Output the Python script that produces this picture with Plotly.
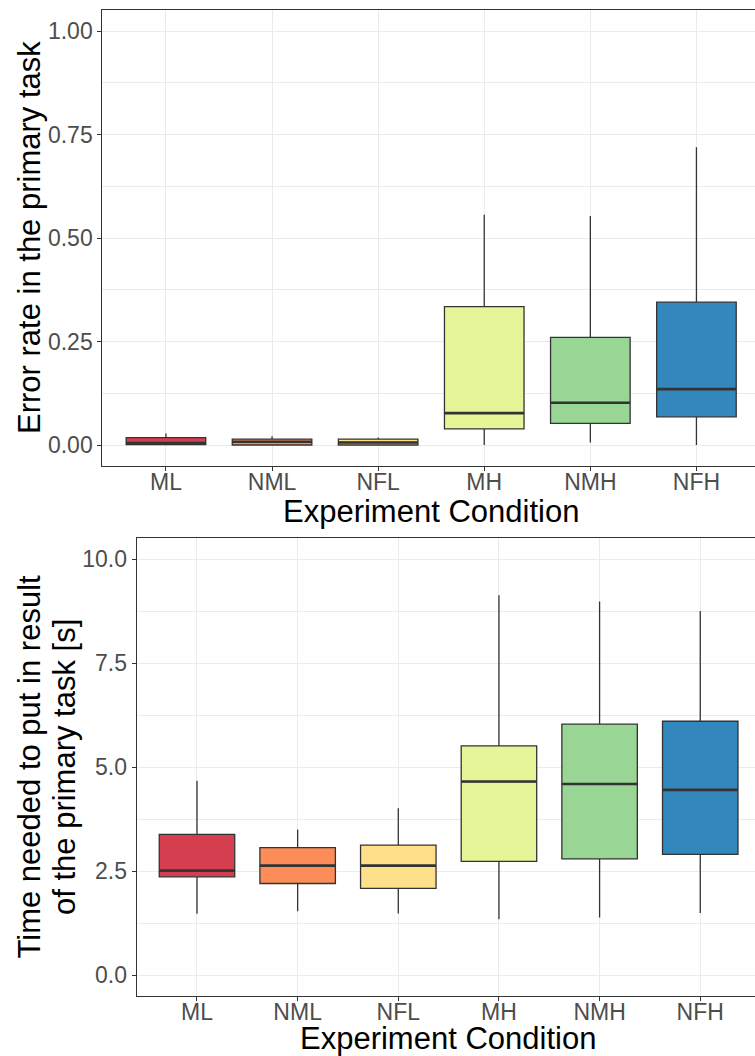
import plotly.graph_objects as go

# ---------------- data ----------------
categories = ["ML", "NML", "NFL", "MH", "NMH", "NFH"]
colors = ["#D53E4F", "#FC8D59", "#FEE08B", "#E6F598", "#99D594", "#3288BD"]

# Error rate in the primary task
err_low = [0.0, 0.0, 0.0, 0.0, 0.006, 0.0]
err_q1 = [0.001, 0.0, 0.0, 0.039, 0.052, 0.068]
err_med = [0.005, 0.008, 0.006, 0.077, 0.102, 0.135]
err_q3 = [0.018, 0.014, 0.014, 0.334, 0.260, 0.345]
err_high = [0.028, 0.021, 0.018, 0.556, 0.553, 0.719]

# Time needed to put in result [s]
time_low = [1.47, 1.53, 1.48, 1.34, 1.38, 1.49]
time_q1 = [2.36, 2.20, 2.08, 2.73, 2.79, 2.90]
time_med = [2.51, 2.63, 2.63, 4.65, 4.59, 4.45]
time_q3 = [3.38, 3.06, 3.12, 5.51, 6.03, 6.10]
time_high = [4.67, 3.50, 4.01, 9.13, 8.98, 8.75]

W, H = 755, 1056
FONT = "Liberation Sans, Arial, sans-serif"
BOX_W = 0.75

fig = go.Figure()


def add_panel(low, q1, med, q3, high, xa, ya):
    for i, cat in enumerate(categories):
        fig.add_trace(go.Box(
            x=[i], lowerfence=[low[i]], q1=[q1[i]], median=[med[i]],
            q3=[q3[i]], upperfence=[high[i]],
            width=BOX_W, whiskerwidth=0, boxpoints=False,
            fillcolor=colors[i], line=dict(color="#333333", width=1.3),
            xaxis=xa, yaxis=ya, showlegend=False, name=cat,
        ))
        # thicker median line (ggplot fatten)
        fig.add_trace(go.Scatter(
            x=[i - BOX_W / 2, i + BOX_W / 2], y=[med[i], med[i]],
            mode="lines", line=dict(color="#333333", width=2.6),
            xaxis=xa, yaxis=ya, showlegend=False, hoverinfo="skip",
        ))


add_panel(err_low, err_q1, err_med, err_q3, err_high, "x", "y")
add_panel(time_low, time_q1, time_med, time_q3, time_high, "x2", "y2")

tickfont = dict(family=FONT, size=23, color="#4D4D4D")
grid = "#EBEBEB"


def xaxis(domain, rng, anchor):
    return dict(
        domain=domain, range=rng, anchor=anchor,
        tickmode="array", tickvals=list(range(len(categories))), ticktext=categories,
        showgrid=True, gridcolor=grid, gridwidth=1, zeroline=False,
        showline=True, mirror=True, linecolor="#333333", linewidth=1,
        ticks="outside", ticklen=4, tickcolor="#333333", tickwidth=1,
        tickfont=tickfont, ticklabelstandoff=-8,
    )


def yaxis(domain, rng, dtick, fmt, anchor):
    return dict(
        domain=domain, range=rng, anchor=anchor,
        tick0=0, dtick=dtick, tickformat=fmt,
        showgrid=True, gridcolor=grid, gridwidth=1, zeroline=False,
        showline=True, mirror=False, linecolor="#333333", linewidth=1,
        ticks="outside", ticklen=4, tickcolor="#333333", tickwidth=1,
        tickfont=tickfont,
        minor=dict(tick0=0, dtick=dtick / 2, showgrid=True, gridcolor=grid,
                   gridwidth=0.6, ticks=""),
    )


def py(pix):
    return 1 - pix / H


fig.update_layout(
    width=W, height=H,
    margin=dict(l=0, r=0, t=0, b=0),
    paper_bgcolor="white", plot_bgcolor="white",
    font=dict(family=FONT),
    boxmode="overlay",
    xaxis=xaxis([102.3 / W, 1], [-0.6, 5.552], "y"),
    yaxis=yaxis([py(465.7), py(10.3)], [-0.05, 1.05], 0.25, ".2f", "x"),
    xaxis2=xaxis([136.6 / W, 1], [-0.6, 5.544], "y2"),
    yaxis2=yaxis([py(995.8), py(538.2)], [-0.5, 10.5], 2.5, ".1f", "x2"),
)

title_font = dict(family=FONT, size=31, color="black")
annos = [
    dict(text="Experiment Condition", x=431 / W, y=py(511)),
    dict(text="Experiment Condition", x=448.3 / W, y=py(1038.5)),
    dict(text="Error rate in the primary task", x=30 / W, y=py(238), textangle=-90),
    dict(text="Time needed to put in result", x=28.5 / W, y=py(767), textangle=-90),
    dict(text="of the primary task [s]", x=64 / W, y=py(767), textangle=-90),
]
for a in annos:
    fig.add_annotation(xref="paper", yref="paper", showarrow=False,
                       xanchor="center", yanchor="middle", font=title_font, **a)

fig.write_html("out.html")
